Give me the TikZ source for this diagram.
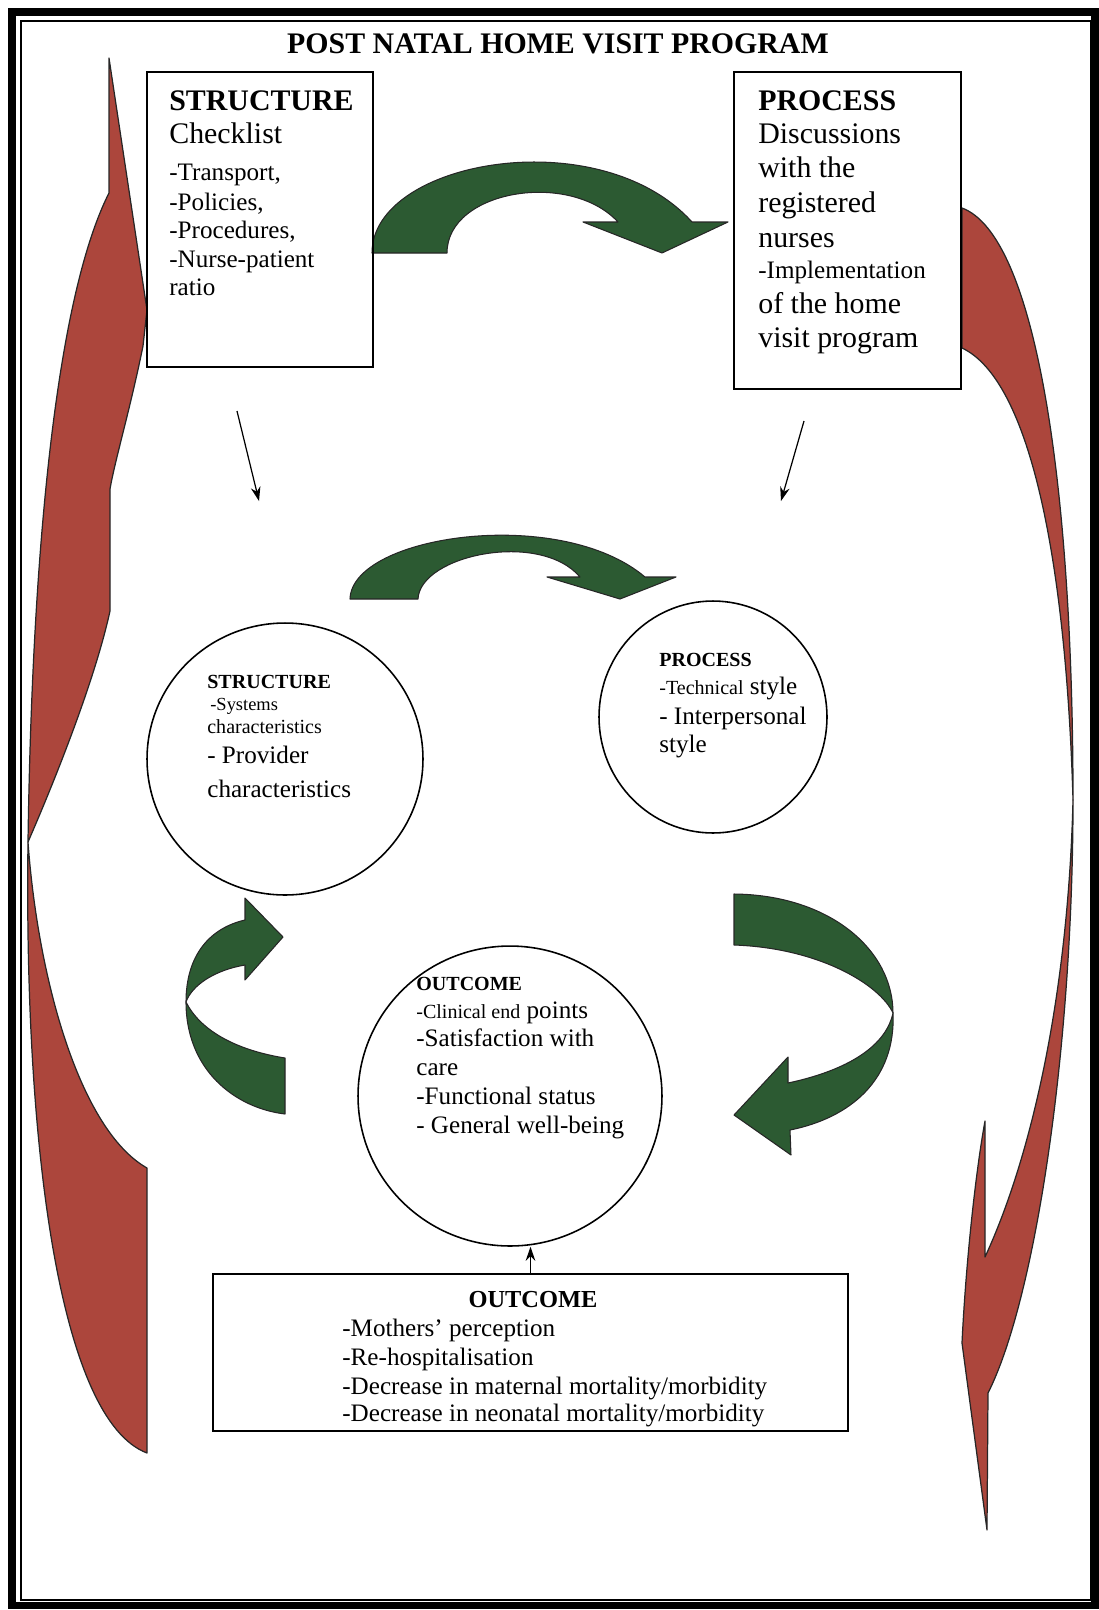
\documentclass[tikz,border=0pt]{standalone}
\usepackage{fontspec}
\setmainfont{Liberation Serif}
\usetikzlibrary{shapes.geometric,arrows.meta}

\definecolor{ribbonred}{RGB}{172,70,60}
\definecolor{ribbongreen}{RGB}{44,90,50}

\newcommand\pnHead{\fontsize{17}{20}\selectfont}
\newcommand\pnBody{\fontsize{14.3}{17}\selectfont}
\newcommand\pnOut{\fontsize{13.9}{16}\selectfont}
\newcommand\pnSmall{\fontsize{11.4}{13}\selectfont}
\newcommand\pnTiny{\fontsize{10.5}{12}\selectfont}

\tikzset{
  boxframe/.style={draw, line width=0.9pt, inner sep=0pt},
  ringnode/.style={draw, ellipse, line width=0.9pt, inner sep=0pt},
  txt/.style={anchor=base west, inner sep=0pt, font=\pnBody},
  thinarrow/.style={draw, line width=0.7pt, -{Stealth[length=8pt,width=5.5pt]}},
  redarrow/.style={fill=ribbonred, draw=black!85, line width=0.7pt, line join=round},
  greenarrow/.style={fill=ribbongreen, draw=black!85, line width=0.6pt, line join=round}
}

\begin{document}
\begin{tikzpicture}[x=0.02cm, y=-0.02cm]
    \useasboundingbox (0,0) rectangle (1099,1610);

    % Frame
    \draw[line width=4pt] (12,12) rectangle (1095,1605);
    \draw[line width=0.8pt] (21,21) rectangle (1091,1600);

    % Title
    \node[font=\pnHead\bfseries, anchor=base, inner sep=0pt] (title) at (558,53) {POST NATAL HOME VISIT PROGRAM};

    % Red ribbon, left side (points up)
    \draw[redarrow] (28,842) .. controls (32,560) and (55,300) .. (109,193) -- (109,58) -- (147,310) -- (143,346)
        .. controls (130,410) and (115,460) .. (110,489) -- (110,611)
        .. controls (95,680) and (55,780) .. (28,842) -- cycle;
    \draw[redarrow] (28,842) .. controls (38,980) and (80,1130) .. (147,1168) -- (147,1453)
        .. controls (60,1420) and (24,1150) .. (28,842) -- cycle;

    % Red ribbon, right side (points down)
    \draw[redarrow] (962,208) .. controls (1035,235) and (1073,480) .. (1073,800)
        .. controls (1066,560) and (1030,380) .. (962,348) -- cycle;
    \draw[redarrow] (1073,800) .. controls (1073,1050) and (1035,1300) .. (988,1393) -- (987,1530) -- (962,1343)
        .. controls (966,1260) and (976,1170) .. (985,1121) -- (985,1257)
        .. controls (1030,1160) and (1068,1000) .. (1073,800) -- cycle;

    % Green arrows
    \draw[greenarrow] (372,253) .. controls (372,160) and (600,120) .. (692,222) -- (728,222) -- (662,253) -- (583,222) -- (618,222)
        .. controls (570,170) and (447,190) .. (447,253) -- cycle;
    \draw[greenarrow] (350,599) .. controls (352,535) and (560,505) .. (645,577) -- (676,577) -- (620,599) -- (547,577) -- (580,577)
        .. controls (540,530) and (420,555) .. (418,599) -- cycle;
    \draw[greenarrow] (186,1002) .. controls (186,955) and (210,928) .. (245,920) -- (245,898) -- (283,937) -- (245,980) -- (245,965)
        .. controls (215,970) and (192,985) .. (186,1002) -- cycle;
    \draw[greenarrow] (186,1002) .. controls (186,1070) and (235,1108) .. (285,1114) -- (285,1058)
        .. controls (235,1050) and (200,1030) .. (186,1002) -- cycle;
    \draw[greenarrow] (734,894) .. controls (830,895) and (893,950) .. (893,1013)
        .. controls (880,985) and (820,948) .. (734,945) -- cycle;
    \draw[greenarrow] (893,1013) .. controls (896,1080) and (850,1118) .. (790,1130) -- (791,1155) -- (734,1115) -- (788,1057) -- (788,1083)
        .. controls (840,1072) and (885,1050) .. (893,1013) -- cycle;

    % Top boxes
    \node[boxframe, minimum width=4.52cm, minimum height=5.9cm] (structbox) at (260,219.5) {};
    \node[boxframe, minimum width=4.54cm, minimum height=6.34cm] (procbox) at (847.5,230.5) {};

    \node[txt, font=\pnHead\bfseries] (sthead) at (169,110) {STRUCTURE};
    \node[txt, font=\pnHead] (stsub) at (169,143) {Checklist};
    \foreach \ln/\yy [count=\i] in {{-Transport,}/180, {-Policies,}/210, {-Procedures,}/238, {-Nurse-patient}/267, {ratio}/295}
        \node[txt] (stitem\i) at (169,\yy) {\ln};

    \node[txt, font=\pnHead\bfseries] (prhead) at (758,110) {PROCESS};
    \foreach \ln/\yy [count=\i] in {Discussions/143, with the/177, registered/212, nurses/247}
        \node[txt, font=\pnHead] (prline\i) at (758,\yy) {\ln};
    \node[txt] (primpl) at (758,278) {-Implementation};
    \foreach \ln/\yy [count=\i] in {of the home/313, visit program/347}
        \node[txt, font=\pnHead] (prtail\i) at (758,\yy) {\ln};

    % Circles
    \node[ringnode, minimum width=5.52cm, minimum height=5.44cm] (structring) at (285,759) {};
    \node[ringnode, minimum width=4.56cm, minimum height=4.64cm] (procring) at (713,717) {};
    \node[ringnode, minimum width=6.08cm, minimum height=6.0cm] (outring) at (510,1096) {};

    \node[txt, font=\pnSmall\bfseries] (srhead) at (207,688) {STRUCTURE};
    \node[txt, font=\pnTiny] (srline1) at (210,710) {-Systems};
    \node[txt, font=\pnSmall] (srline2) at (207,733) {characteristics};
    \node[txt] (srline3) at (207,763) {- Provider};
    \node[txt] (srline4) at (207,797) {characteristics};

    \node[txt, font=\pnSmall\bfseries] (prrhead) at (659,666) {PROCESS};
    \node[txt] (prrline1) at (659,694) {{\pnSmall -Technical} style};
    \node[txt] (prrline2) at (659,724) {- Interpersonal};
    \node[txt] (prrline3) at (659,752) {style};

    \node[txt, font=\pnSmall\bfseries] (orhead) at (416,990) {OUTCOME};
    \node[txt] (orline1) at (416,1018) {{\pnSmall -Clinical end} points};
    \foreach \ln/\yy [count=\i from 2] in {-Satisfaction with/1046, care/1075, -Functional status/1104, - General well-being/1133}
        \node[txt] (orline\i) at (416,\yy) {\ln};

    % Bottom box
    \node[boxframe, minimum width=12.7cm, minimum height=3.14cm] (outbox) at (530.5,1352.5) {};
    \node[font=\pnOut\bfseries, anchor=base, inner sep=0pt] (obhead) at (533,1307) {OUTCOME};
    \foreach \ln/\yy [count=\i] in {{-Mothers' perception}/1336, {-Re-hospitalisation}/1365, {-Decrease in maternal mortality/morbidity}/1394, {-Decrease in neonatal mortality/morbidity}/1421}
        \node[txt] (obline\i) at (342,\yy) {\ln};

    % Thin arrows
    \coordinate (stail) at (237,411);
    \coordinate (shead) at (259,501);
    \coordinate (ptail) at (804,421);
    \coordinate (phead) at (781,501);
    \draw[thinarrow] (stail) -- (shead);
    \draw[thinarrow] (ptail) -- (phead);
    \draw[thinarrow] (outbox.north) -- (outbox.north |- outring.south);
\end{tikzpicture}
\end{document}
